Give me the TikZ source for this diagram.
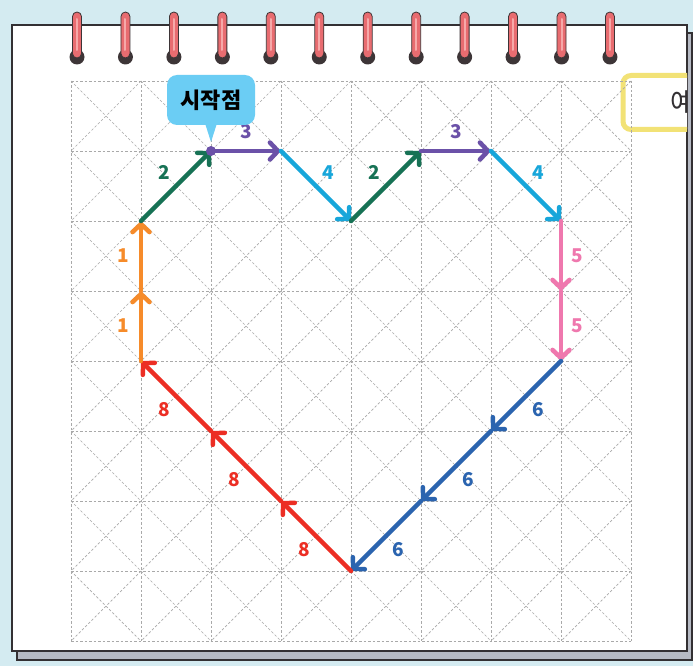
\documentclass[tikz,border=0pt]{standalone}
\usepackage{fontspec}
\usetikzlibrary{arrows.meta}
\newfontfamily\krfont{Noto Sans CJK KR}
\definecolor{skybg}{HTML}{D4EBF1}
\definecolor{inkdark}{HTML}{333033}
\definecolor{papershade}{HTML}{B6BAC4}
\definecolor{gridgray}{HTML}{A9A9A9}
\definecolor{ringred}{HTML}{E86C70}
\definecolor{ringlight}{HTML}{F6A9A9}
\definecolor{ringdark}{HTML}{3D3537}
\definecolor{noteyellow}{HTML}{F2E276}
\definecolor{calloutblue}{HTML}{6BCDF4}
\definecolor{heartpurple}{HTML}{6B51A8}
\definecolor{heartcyan}{HTML}{17A6DA}
\definecolor{heartgreen}{HTML}{177255}
\definecolor{heartpink}{HTML}{EF78AE}
\definecolor{heartblue}{HTML}{2B64AF}
\definecolor{heartred}{HTML}{EC2E24}
\definecolor{heartorange}{HTML}{F68B2A}

\begin{document}
\begin{tikzpicture}[x=1pt, y=-1pt,
    gridline/.style={draw=gridgray, line width=0.7pt, dash pattern=on 2.5pt off 2pt},
    seg/.style={draw=#1, line width=4.5pt, line cap=round,
        -{Straight Barb[length=8pt, width=17pt, line cap=round]}},
    num/.style={font=\krfont\bfseries\fontsize{19}{19}\selectfont, text=#1, inner sep=1pt},
    callout/.style={rectangle, rounded corners=10pt, fill=calloutblue,
        minimum width=88pt, minimum height=50pt, inner sep=0pt,
        font=\krfont\bfseries\fontsize{22}{22}\selectfont, text=black},
    startdot/.style={circle, fill=heartpurple, minimum size=10pt, inner sep=0pt},
    exbox/.style={rectangle, rounded corners=8pt, draw=noteyellow, line width=5pt, fill=white,
        minimum height=54pt, text width=90pt, align=left, inner xsep=47pt,
        font=\krfont\fontsize{27}{27}\selectfont, text=inkdark}
]

% Background and paper
\useasboundingbox (0,0) rectangle (693,666);
\fill[skybg] (0,0) rectangle (693,666);
\filldraw[fill=papershade, draw=inkdark, line width=1.2pt] (17,33) rectangle (692,660);
\filldraw[fill=white, draw=inkdark, line width=1.2pt] (12,25) rectangle (687,651);

% Spiral rings
\foreach \n in {0,...,11} {
    \pgfmathsetmacro\rx{77+48.45*\n}
    \fill[ringdark] (\rx,57) circle (7.5);
    \filldraw[fill=ringred, draw=ringdark, line width=0.8pt, rounded corners=4.5pt]
        (\rx-4.5,12) rectangle (\rx+4.5,58);
    \draw[ringlight, line width=2pt, line cap=round] (\rx,19) -- (\rx,50);
}

% Example tag at the right edge
\begin{scope}
    \clip (12,25) rectangle (687,651);
    \node[exbox, anchor=west] (example) at (620.5,102.5) {예시};
\end{scope}

% Grid points
\foreach \i in {0,...,8}
    \foreach \j in {0,...,8}
        \coordinate (g\i\j) at ({71+70*\i},{81+70*\j});

% Dashed grid with diagonals
\foreach \i in {0,...,8} {
    \draw[gridline] (g\i0) -- (g\i8);
    \draw[gridline] (g0\i) -- (g8\i);
}
\begin{scope}
    \clip (g00) rectangle (g88);
    \foreach \k in {-8,...,8}
        \draw[gridline] ({71+70*\k},81) -- ++(560,560);
    \foreach \k in {0,...,16}
        \draw[gridline] ({71+70*\k},81) -- ++(-560,560);
\end{scope}

% Heart path
\draw[seg=heartpurple] (g21) -- node[num=heartpurple, above=9pt] {3} (g31);
\draw[seg=heartcyan] (g31) -- node[num=heartcyan, above right=3pt] {4} (g42);
\draw[seg=heartgreen] (g42) -- node[num=heartgreen, above left=3pt] {2} (g51);
\draw[seg=heartpurple] (g51) -- node[num=heartpurple, above=9pt] {3} (g61);
\draw[seg=heartcyan] (g61) -- node[num=heartcyan, above right=3pt] {4} (g72);
\draw[seg=heartpink] (g72) -- node[num=heartpink, right=7pt] {5} (g73);
\draw[seg=heartpink] (g73) -- node[num=heartpink, right=7pt] {5} (g74);
\draw[seg=heartblue] (g74) -- node[num=heartblue, below right=3pt] {6} (g65);
\draw[seg=heartblue] (g65) -- node[num=heartblue, below right=3pt] {6} (g56);
\draw[seg=heartblue] (g56) -- node[num=heartblue, below right=3pt] {6} (g47);
\draw[seg=heartred] (g47) -- node[num=heartred, below left=3pt] {8} (g36);
\draw[seg=heartred] (g36) -- node[num=heartred, below left=3pt] {8} (g25);
\draw[seg=heartred] (g25) -- node[num=heartred, below left=3pt] {8} (g14);
\draw[seg=heartorange] (g14) -- node[num=heartorange, left=9pt] {1} (g13);
\draw[seg=heartorange] (g13) -- node[num=heartorange, left=9pt] {1} (g12);
\draw[seg=heartgreen] (g12) -- node[num=heartgreen, above left=3pt] {2} (g21);

% Start marker
\node[startdot] (start) at (g21) {};
\node[callout] (startlabel) at (211,100) {시작점};
\coordinate (tip) at (211,142);
\fill[calloutblue] ([xshift=-6pt, yshift=2pt]startlabel.south) -- (tip)
    -- ([xshift=6pt, yshift=2pt]startlabel.south) -- cycle;

\end{tikzpicture}
\end{document}
